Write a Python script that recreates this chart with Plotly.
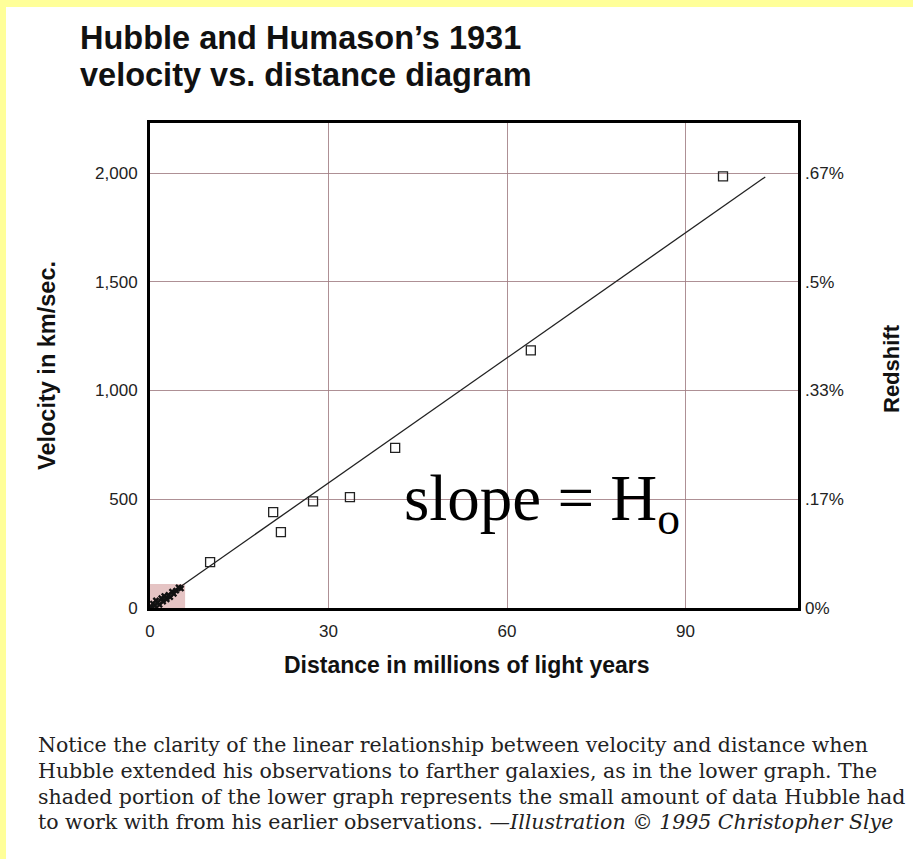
import plotly.graph_objects as go

# ---- data ----
dist_mly = [10.1, 20.7, 22.0, 27.4, 33.6, 41.2, 64.0, 96.3]
vel_kms = [211, 441, 349, 490, 510, 736, 1185, 1985]

early_dist = [0.2, 0.5, 0.8, 1.0, 1.3, 1.6, 1.9, 2.2, 2.4, 2.8, 3.1, 3.4, 3.7, 4.0, 4.4, 4.8, 5.2]
early_vel = [5, 20, 10, 35, 25, 15, 45, 30, 55, 40, 60, 50, 75, 65, 80, 95, 90]

fit_dist = [0, 103.4]
fit_vel = [0, 1982]

shade_dist = [0, 5.9]
shade_vel = [0, 110]

vel_ticks = [0, 500, 1000, 1500, 2000]
vel_labels = ["0", "500", "1,000", "1,500", "2,000"]
redshift_labels = ["0%", ".17%", ".33%", ".5%", ".67%"]
dist_ticks = [0, 30, 60, 90]
dist_labels = ["0", "30", "60", "90"]

title_lines = ["Hubble and Humason\u2019s 1931", "velocity vs. distance diagram"]
caption_lines = [
    "Notice the clarity of the linear relationship between velocity and distance when",
    "Hubble extended his observations to farther galaxies, as in the lower graph. The",
    "shaded portion of the lower graph represents the small amount of data Hubble had",
    "to work with from his earlier observations. \u2014<i>Illustration \u00a9 1995 Christopher Slye</i>",
]

# ---- layout geometry ----
W, H = 913, 859
L, R, T, B = 150, 115, 123, 251
PW, PH = W - L - R, H - T - B


def px(x):
    return (x - L) / PW


def py(y):
    return (H - B - y) / PH


SANS = "Liberation Sans, Arial, sans-serif"
SERIF = "Liberation Serif, Times New Roman, serif"
CAP_SERIF = "DejaVu Serif, serif"

fig = go.Figure()

fig.add_trace(go.Scatter(
    x=fit_dist, y=fit_vel, mode="lines",
    line=dict(color="#222", width=1.3), hoverinfo="skip", showlegend=False))

fig.add_trace(go.Scatter(
    x=early_dist, y=early_vel, mode="markers",
    marker=dict(symbol="x", size=6, color="#111"), showlegend=False))

fig.add_trace(go.Scatter(
    x=dist_mly, y=vel_kms, mode="markers",
    marker=dict(symbol="square-open", size=9, color="#222", line=dict(width=1.3)),
    showlegend=False))

# invisible trace to activate the right axis
fig.add_trace(go.Scatter(
    x=[0], y=[0], yaxis="y2", mode="markers", marker=dict(opacity=0),
    hoverinfo="skip", showlegend=False))

fig.add_shape(type="rect", xref="x", yref="y",
              x0=shade_dist[0], x1=shade_dist[1], y0=shade_vel[0], y1=shade_vel[1],
              fillcolor="rgba(215,165,165,0.65)", line=dict(width=0), layer="below")

# yellow border strips
fig.add_shape(type="rect", xref="paper", yref="paper",
              x0=px(-10), x1=px(W + 10), y0=py(7), y1=py(-10),
              fillcolor="#FFFF99", line=dict(width=0), layer="below")
fig.add_shape(type="rect", xref="paper", yref="paper",
              x0=px(-10), x1=px(6), y0=py(H + 10), y1=py(-10),
              fillcolor="#FFFF99", line=dict(width=0), layer="below")

grid_color = "rgba(160,125,130,0.85)"

fig.update_layout(
    width=W, height=H,
    margin=dict(l=L, r=R, t=T, b=B),
    paper_bgcolor="white", plot_bgcolor="white",
    xaxis=dict(range=[0, 108.9], tickvals=dist_ticks, ticktext=dist_labels,
               showgrid=True, gridcolor=grid_color, gridwidth=1, zeroline=False,
               showline=True, linecolor="black", linewidth=3, mirror=True,
               ticks="", ticklabelstandoff=6,
               tickfont=dict(family=SANS, size=17, color="#222")),
    yaxis=dict(range=[0, 2230], tickvals=vel_ticks, ticktext=vel_labels,
               showgrid=True, gridcolor=grid_color, gridwidth=1, zeroline=False,
               showline=True, linecolor="black", linewidth=3, mirror=True,
               ticks="", ticklabelstandoff=6,
               tickfont=dict(family=SANS, size=17, color="#222")),
    yaxis2=dict(range=[0, 2230], overlaying="y", side="right",
                tickvals=vel_ticks, ticktext=redshift_labels,
                showgrid=False, zeroline=False, showline=False, ticks="",
                ticklabelstandoff=6,
                tickfont=dict(family=SANS, size=17, color="#222")),
    showlegend=False,
)

ann = []
ann.append(dict(text="<b>%s</b>" % title_lines[0], x=px(78), y=py(38), xanchor="left", yanchor="middle",
                font=dict(family=SANS, size=32.5, color="#111")))
ann.append(dict(text="<b>%s</b>" % title_lines[1], x=px(78), y=py(75), xanchor="left", yanchor="middle",
                font=dict(family=SANS, size=32.5, color="#111")))
ann.append(dict(text="<b>Distance in millions of light years</b>", x=px(467), y=py(665),
                xanchor="center", yanchor="middle", font=dict(family=SANS, size=23, color="#111")))
ann.append(dict(text="<b>Velocity in km/sec.</b>", x=px(47), y=py(365), textangle=-90,
                xanchor="center", yanchor="middle", font=dict(family=SANS, size=23.5, color="#111")))
ann.append(dict(text="<b>Redshift</b>", x=px(891), y=py(369), textangle=-90,
                xanchor="center", yanchor="middle", font=dict(family=SANS, size=22, color="#111")))
ann.append(dict(text="slope = H<sub>o</sub>", x=px(402), y=py(503),
                xanchor="left", yanchor="middle", font=dict(family=SERIF, size=65, color="black")))
cap_y = [745, 771, 797, 822]
for t, yy in zip(caption_lines, cap_y):
    ann.append(dict(text=t, x=px(36), y=py(yy), xanchor="left", yanchor="middle",
                    font=dict(family=CAP_SERIF, size=20.5, color="#222")))
for a in ann:
    a.update(xref="paper", yref="paper", showarrow=False)
fig.update_layout(annotations=ann)

fig.write_html("out.html", config={"displayModeBar": False},
               post_script="document.body.style.margin='0px';")
